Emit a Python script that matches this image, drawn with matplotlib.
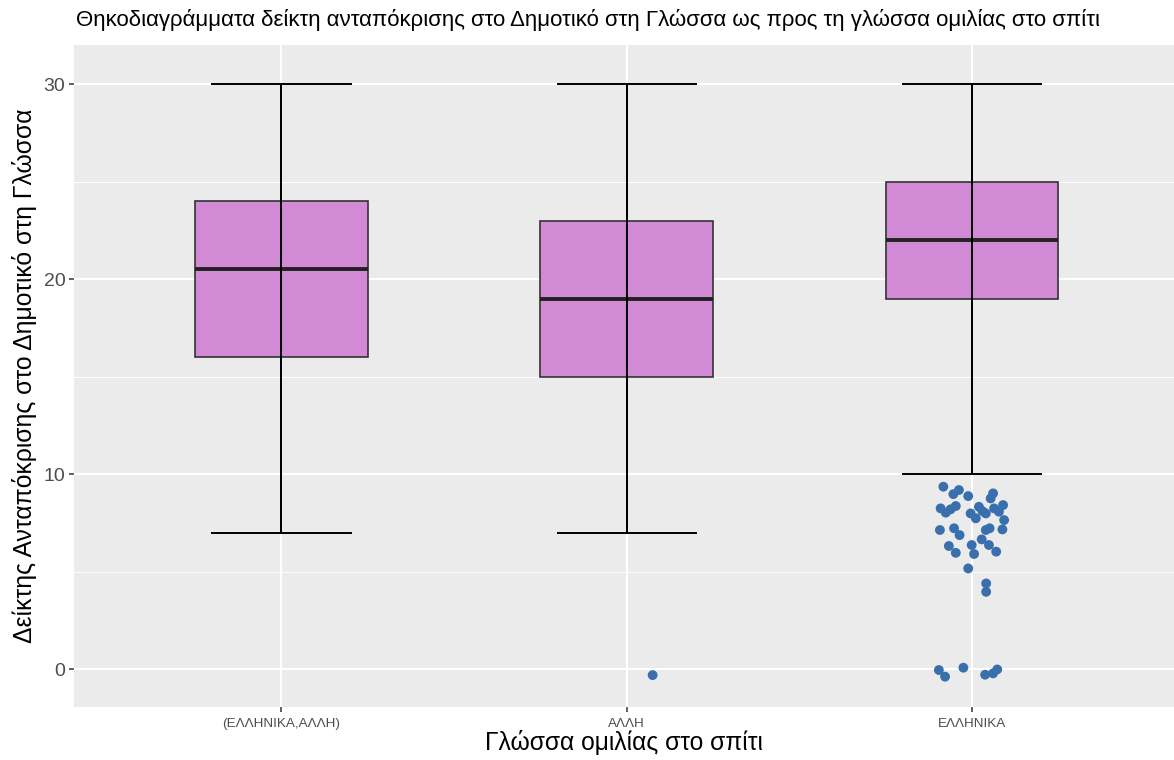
import matplotlib
matplotlib.use("Agg")
import matplotlib.pyplot as plt
import numpy as np

plt.rcParams['font.family'] = ['Liberation Sans', 'DejaVu Sans']

# ---- data ----
categories = ["(ΕΛΛΗΝΙΚΑ,ΑΛΛΗ)", "ΑΛΛΗ", "ΕΛΛΗΝΙΚΑ"]
whisker_low = [7, 7, 10]
q1 = [16, 15, 19]
median = [20.5, 19, 22]
q3 = [24, 23, 25]
whisker_high = [30, 30, 30]

# outliers: group index (1-based), jittered position offset, value
out_group = [2] + [3] * 41
out_jitter = [0.075,
              -0.083, -0.054, -0.038, -0.011, 0.061, 0.054, -0.091, -0.076, -0.062, -0.047,
              0.020, -0.004, 0.011, 0.040, 0.064, 0.078, 0.090, 0.093, 0.088, -0.093,
              -0.052, -0.036, 0.040, 0.051, 0.028, 0.049, -0.067, -0.047, -0.001, 0.006,
              0.070, -0.011, 0.041, 0.041, -0.096, -0.078, -0.025, 0.038, 0.061, 0.073,
              0.030]
out_value = [-0.31,
             9.35, 8.97, 9.18, 8.87, 9.01, 8.75, 8.24, 8.02, 8.19, 8.36,
             8.32, 7.98, 7.73, 7.98, 8.24, 8.07, 8.41, 7.64, 7.16, 7.13,
             7.22, 6.87, 7.13, 7.22, 6.65, 6.36, 6.31, 5.96, 6.36, 5.90,
             6.02, 5.16, 4.39, 3.96, -0.05, -0.39, 0.07, -0.29, -0.22, -0.02,
             8.10]

yticks = [0, 10, 20, 30]
title = "Θηκοδιαγράμματα δείκτη ανταπόκρισης στο Δημοτικό στη Γλώσσα ως προς τη γλώσσα ομιλίας στο σπίτι"
xlabel = "Γλώσσα ομιλίας στο σπίτι"
ylabel = "Δείκτης Ανταπόκρισης στο Δημοτικό στη Γλώσσα"

# ---- figure ----
fig = plt.figure(figsize=(11.74, 7.6), dpi=100)
ax = fig.add_axes([74.3 / 1174, 1 - 706.5 / 760, 1 - 74.3 / 1174, (706.5 - 45) / 760])
ax.set_facecolor("#EBEBEB")
for s in ax.spines.values():
    s.set_visible(False)

pos = np.arange(1, len(categories) + 1)
stats = []
for i in range(len(categories)):
    stats.append(dict(med=median[i], q1=q1[i], q3=q3[i],
                      whislo=whisker_low[i], whishi=whisker_high[i], fliers=[]))
ax.bxp(stats, positions=pos, widths=0.5, capwidths=0.4, patch_artist=True,
       showfliers=False,
       boxprops=dict(facecolor="#D38AD5", edgecolor="#333333", linewidth=1.2),
       medianprops=dict(color="#222222", linewidth=2.8, solid_capstyle="butt"),
       whiskerprops=dict(color="black", linewidth=1.4),
       capprops=dict(color="black", linewidth=1.4),
       zorder=2)
# vertical line through box (errorbar style)
ax.vlines(pos, whisker_low, whisker_high, color="black", linewidth=1.4, zorder=3)

xs = np.array(out_group) + np.array(out_jitter)
ax.scatter(xs, out_value, s=50, color="#3A6FAE", edgecolors="none", zorder=4)

ax.set_xlim(0.4, 3.585)
ax.set_ylim(-1.92, 32.0)
ax.set_yticks(yticks)
ax.set_yticks([5, 15, 25], minor=True)
ax.set_xticks(pos)
ax.set_xticklabels(categories)
ax.grid(True, which="major", color="white", linewidth=1.5)
ax.grid(True, which="minor", axis="y", color="white", linewidth=0.7)
ax.set_axisbelow(True)
ax.tick_params(axis="both", which="major", length=3.5, width=1.1, color="#333333")
ax.tick_params(axis="y", which="minor", length=0)
ax.tick_params(axis="y", labelsize=14, labelcolor="#4D4D4D", pad=3)
ax.tick_params(axis="x", labelsize=9.7, labelcolor="#4D4D4D", pad=4.5)

ax.set_xlabel(xlabel, fontsize=17.7, labelpad=0)
ax.set_ylabel(ylabel, fontsize=17.8, labelpad=5)
fig.text(76 / 1174, 1 - 20 / 760, title, fontsize=16.0, ha="left", va="center")

fig.savefig("out.png", dpi=100)
